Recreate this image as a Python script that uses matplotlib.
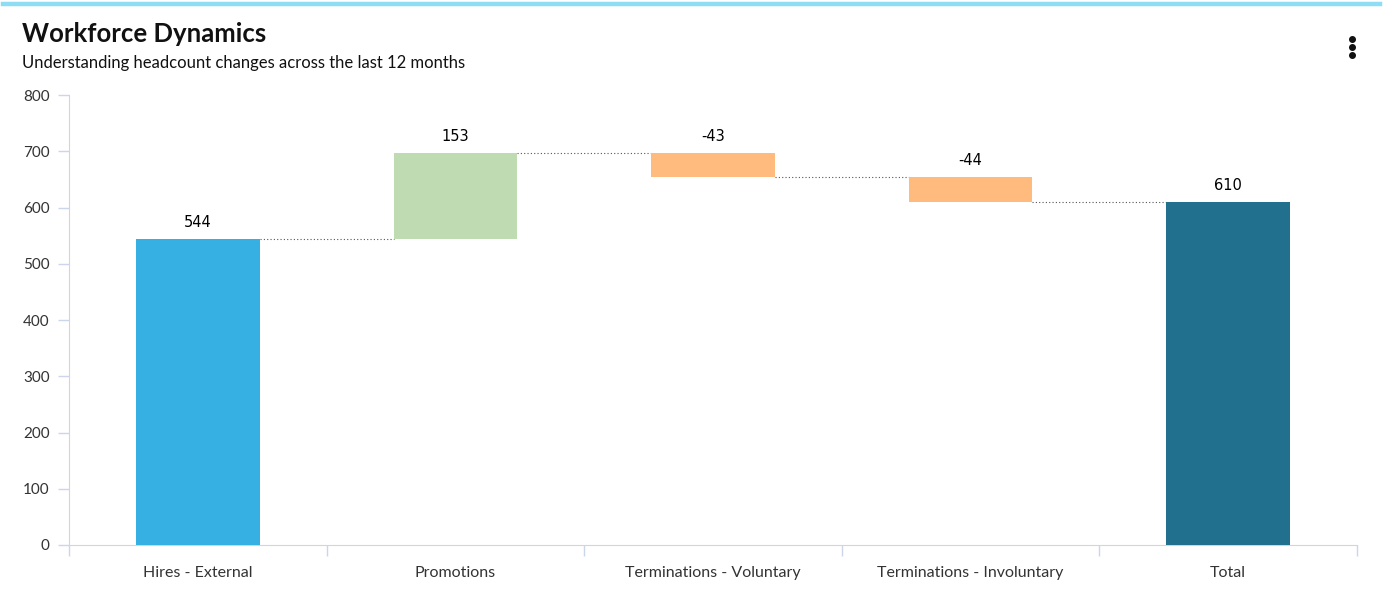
import matplotlib
matplotlib.use("Agg")
import matplotlib.pyplot as plt
from matplotlib.lines import Line2D

categories = ["Hires - External", "Promotions", "Terminations - Voluntary",
              "Terminations - Involuntary", "Total"]
changes = [544, 153, -43, -44]
total = 610
yticks = [0, 100, 200, 300, 400, 500, 600, 700, 800]

colors = ["#36b0e3", "#bfdbb2", "#ffbb7d", "#ffbb7d", "#21708e"]

W, H = 1383, 591
fig = plt.figure(figsize=(W / 100, H / 100), dpi=100)
fig.patch.set_facecolor("white")

ax = fig.add_axes([69 / W, (H - 545) / H, (1357 - 69) / W, (545 - 95) / H])

# waterfall geometry
bottoms, heights, tops = [], [], []
cum = 0
for i, v in enumerate(changes):
    if i == 0:
        bottoms.append(0); heights.append(v)
        cum = v
    else:
        if v >= 0:
            bottoms.append(cum); heights.append(v)
        else:
            bottoms.append(cum + v); heights.append(-v)
        cum += v
    tops.append(bottoms[-1] + heights[-1])
bottoms.append(0); heights.append(total); tops.append(total)
labels = [str(v) for v in changes] + [str(total)]

x = list(range(len(categories)))
bw = 0.48
ax.bar(x, heights, bottom=bottoms, width=bw, color=colors, edgecolor="none", zorder=3)

# connectors
levels = []
cum = 0
for v in changes:
    cum += v
    levels.append(cum)
for i, lvl in enumerate(levels):
    ax.plot([i + bw / 2, i + 1 - bw / 2], [lvl, lvl], linestyle=(0, (1, 2)),
            color="#555555", linewidth=0.8, zorder=2)

for i, (t, lab) in enumerate(zip(tops, labels)):
    ax.annotate(lab, (i, t), xytext=(0, 6.5), textcoords="offset points",
                ha="center", va="bottom", fontsize=10.5, color="#000000",
                family="DejaVu Sans")

ax.set_xlim(-0.5, len(categories) - 0.5)
ax.set_ylim(0, 800)
ax.set_yticks(yticks)
ax.set_yticklabels([str(t) for t in yticks], family="Lato", fontsize=11, color="#333333")
ax.set_xticks(x)
ax.set_xticklabels(categories, family="Lato", fontsize=11.5, color="#333333")
ax.tick_params(axis="x", length=0, pad=15)
ax.tick_params(axis="y", length=8, color="#ccd6eb", width=1, pad=6)
# category boundary ticks
ax.set_xticks([i - 0.5 for i in range(len(categories) + 1)], minor=True)
ax.tick_params(axis="x", which="minor", length=8, color="#ccd6eb", width=1)

for s in ["top", "right"]:
    ax.spines[s].set_visible(False)
ax.spines["left"].set_color("#ccd6eb")
ax.spines["bottom"].set_color("#ccd6eb")

# top accent line
fig.add_artist(Line2D([3 / W, 1380 / W], [(H - 4) / H, (H - 4) / H],
                      color="#8fdcf5", linewidth=3.2, transform=fig.transFigure))

fig.text(22 / W, (H - 34) / H, "Workforce Dynamics", family="Lato", fontweight="bold",
         fontsize=18.5, color="#111111", va="center", ha="left")
fig.text(22 / W, (H - 63) / H, "Understanding headcount changes across the last 12 months",
         family="Lato", fontsize=12, color="#111111", va="center", ha="left")

# kebab menu
for yy in [39, 47, 55]:
    fig.add_artist(Line2D([1352 / W], [(H - yy) / H], marker="o", markersize=4,
                          color="#111111", transform=fig.transFigure))

fig.savefig("out.png", dpi=100)
